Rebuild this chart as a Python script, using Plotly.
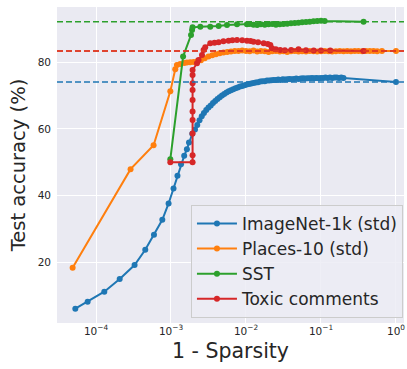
import plotly.graph_objects as go

# ---------------- data ----------------
imagenet_x = [5.30e-5, 7.74e-5, 1.29e-4, 2.07e-4, 3.27e-4, 4.54e-4, 5.93e-4, 7.66e-4, 9.29e-4,
              1.08e-3, 1.22e-3, 1.36e-3, 1.50e-3, 1.63e-3, 1.738e-3, 1.92e-3, 2.09e-3, 2.24e-3,
              2.40e-3, 2.57e-3, 2.75e-3, 2.95e-3, 3.16e-3, 3.39e-3, 3.63e-3, 3.89e-3, 4.17e-3,
              4.47e-3, 4.79e-3, 5.13e-3, 5.50e-3, 5.89e-3, 6.31e-3, 6.76e-3, 7.24e-3, 7.76e-3,
              8.32e-3, 8.91e-3, 9.55e-3, 1.023e-2, 1.096e-2, 1.175e-2, 1.259e-2, 1.349e-2,
              1.445e-2, 1.549e-2, 1.660e-2, 1.778e-2, 1.905e-2, 2.042e-2, 2.188e-2, 2.344e-2,
              2.512e-2, 2.692e-2, 2.884e-2, 3.090e-2, 3.311e-2, 3.548e-2, 3.802e-2, 4.074e-2,
              4.365e-2, 4.677e-2, 5.012e-2, 5.370e-2, 5.754e-2, 6.166e-2, 6.607e-2, 7.079e-2,
              7.586e-2, 8.128e-2, 8.710e-2, 9.333e-2, 0.1, 0.1072, 0.1148, 0.1230, 0.1318,
              0.1413, 0.1514, 0.1622, 0.1738, 0.1862, 0.1995, 1.0]
imagenet_acc = [6.0, 8.1, 11.1, 14.9, 19.1, 23.7, 28.2, 32.7, 37.6,
                42.1, 45.9, 49.4, 51.9, 53.9, 55.9, 58.5, 59.8, 61.2,
                62.6, 63.8, 64.8, 65.7, 66.4, 67.0, 67.8, 68.4, 69.0,
                69.5, 70.0, 70.5, 70.9, 71.3, 71.6, 71.9, 72.2, 72.4,
                72.7, 72.9, 73.1, 73.3, 73.5, 73.6, 73.8, 73.9,
                74.0, 74.2, 74.3, 74.3, 74.5, 74.5, 74.6, 74.7,
                74.7, 74.8, 74.7, 74.9, 74.8, 74.9, 75.0, 74.9,
                75.0, 75.1, 75.0, 75.1, 75.2, 75.1, 75.2, 75.2,
                75.3, 75.2, 75.3, 75.2, 75.3, 75.3, 75.4, 75.3, 75.4,
                75.3, 75.4, 75.4, 75.3, 75.4, 75.3, 74.1]

places_x = [4.88e-5, 2.89e-4, 5.86e-4, 9.80e-4, 1.14e-3, 1.20e-3, 1.33e-3, 1.50e-3, 1.63e-3,
            1.80e-3, 2.00e-3, 2.24e-3, 2.51e-3, 2.82e-3, 3.16e-3, 3.55e-3, 3.98e-3, 4.47e-3,
            5.01e-3, 5.62e-3, 6.31e-3, 7.08e-3, 7.94e-3, 8.91e-3, 1.00e-2, 1.12e-2, 1.26e-2,
            1.41e-2, 1.58e-2, 1.78e-2, 2.00e-2, 2.24e-2, 2.51e-2, 2.82e-2, 3.16e-2, 3.55e-2,
            3.98e-2, 4.47e-2, 5.01e-2, 5.62e-2, 6.31e-2, 7.08e-2, 7.94e-2, 8.91e-2, 0.100,
            0.112, 0.126, 0.141, 0.158, 0.178, 0.200, 0.224, 0.251, 0.282, 0.316, 0.355,
            0.398, 0.447, 0.501, 0.562, 0.650, 1.0]
places_acc = [18.3, 47.9, 55.1, 71.3, 77.9, 79.2, 79.5, 79.8, 79.9,
              80.0, 80.1, 80.3, 80.6, 81.2, 81.7, 82.1, 82.4, 82.7,
              82.9, 83.1, 83.2, 83.4, 83.4, 83.5, 83.4, 83.3, 83.5,
              83.2, 83.4, 83.3, 83.1, 83.3, 83.4, 83.2, 83.3, 83.1,
              83.3, 83.4, 83.2, 83.3, 83.2, 83.4, 83.3, 83.2, 83.3,
              83.4, 83.3, 83.2, 83.3, 83.4, 83.3, 83.4, 83.3, 83.4, 83.4, 83.3,
              83.4, 83.4, 83.4, 83.3, 83.4, 83.4]

sst_x = [9.80e-4, 1.45e-3, 1.85e-3, 1.91e-3, 1.94e-3, 2.46e-3, 3.34e-3, 4.32e-3, 5.58e-3,
         7.59e-3, 1.03e-2, 1.12e-2, 1.26e-2, 1.41e-2, 1.58e-2, 1.78e-2, 2.00e-2, 2.24e-2,
         2.51e-2, 2.82e-2, 3.16e-2, 3.55e-2, 3.98e-2, 4.47e-2, 5.01e-2, 5.62e-2, 6.31e-2,
         7.08e-2, 7.94e-2, 8.91e-2, 0.100, 0.112, 0.37]
sst_acc = [50.9, 81.7, 88.2, 89.7, 90.5, 90.7, 90.7, 90.9, 91.2,
           91.4, 91.4, 91.5, 91.3, 91.2, 91.4, 91.3, 91.4, 91.5,
           91.3, 91.4, 91.5, 91.6, 91.7, 91.8, 91.9, 92.0, 92.1,
           92.2, 92.3, 92.4, 92.5, 92.4, 92.2]

toxic_x = [9.80e-4, 1.94e-3, 1.94e-3, 1.94e-3, 1.94e-3, 1.94e-3, 1.94e-3, 1.94e-3, 1.94e-3,
           1.94e-3, 1.94e-3, 2.22e-3, 2.33e-3, 2.59e-3, 2.72e-3, 2.86e-3, 3.34e-3, 3.80e-3,
           4.32e-3, 5.00e-3, 5.86e-3, 6.60e-3, 7.59e-3, 8.90e-3, 1.03e-2, 1.15e-2, 1.26e-2,
           1.45e-2, 1.72e-2, 1.95e-2, 2.11e-2, 2.22e-2, 2.50e-2, 2.86e-2, 3.30e-2, 4.00e-2,
           5.01e-2, 6.30e-2, 8.00e-2, 0.100, 0.133, 0.37]
toxic_acc = [50.0, 50.0, 52.1, 58.6, 62.7, 65.2, 68.7, 71.7, 73.7,
             76.2, 77.7, 79.7, 80.7, 82.2, 83.7, 84.5, 85.7, 85.9,
             86.0, 86.3, 86.5, 86.6, 86.7, 86.6, 86.5, 86.4, 86.2,
             86.0, 85.7, 85.5, 85.2, 84.2, 83.9, 83.7, 83.6, 83.7,
             83.9, 83.6, 83.5, 83.5, 83.5, 83.4]

series_names = ["ImageNet-1k (std)", "Places-10 (std)", "SST", "Toxic comments"]
baseline_acc = [74.1, 83.4, 92.2, 83.4]   # dense-model accuracy per dataset
colors = ["#1f77b4", "#ff7f0e", "#2ca02c", "#d62728"]
tick_vals = [1e-4, 1e-3, 1e-2, 1e-1, 1e0]
tick_text = ["10<sup>−4</sup>", "10<sup>−3</sup>", "10<sup>−2</sup>", "10<sup>−1</sup>", "10<sup>0</sup>"]

# ---------------- figure ----------------
fig = go.Figure()
xs = [imagenet_x, places_x, sst_x, toxic_x]
ys = [imagenet_acc, places_acc, sst_acc, toxic_acc]

for name, x, y, c in zip(series_names, xs, ys, colors):
    fig.add_trace(go.Scatter(
        x=x, y=y, name=name, mode="lines+markers",
        line=dict(color=c, width=2),
        marker=dict(color=c, size=6),
        legendgroup=name,
    ))

for val, c in zip(baseline_acc, colors):
    fig.add_hline(y=val, line=dict(color=c, width=1.5, dash="6px,3px"), layer="above")

text_color = "#262626"
font_family = "DejaVu Sans"

fig.update_layout(
    width=407, height=369,
    margin=dict(l=57, r=3, t=7, b=46, autoexpand=False),
    paper_bgcolor="white",
    plot_bgcolor="#EAEAF2",
    font=dict(family=font_family, color=text_color),
    showlegend=True,
    legend=dict(
        x=0.997, y=0.016, xanchor="right", yanchor="bottom",
        bgcolor="rgba(236,236,244,0.85)",
        bordercolor="#CCCCCC", borderwidth=1,
        font=dict(size=17, family=font_family, color=text_color),
        tracegroupgap=0,
        itemwidth=40,
    ),
)

fig.update_xaxes(
    type="log",
    range=[-4.52, 0.107],
    tickvals=tick_vals, ticktext=tick_text,
    tickfont=dict(size=10.5, color=text_color),
    showgrid=True, gridcolor="white", gridwidth=1,
    zeroline=False, showline=False, ticks="",
    automargin=False,
    title=dict(text="1 - Sparsity", font=dict(size=20.5, color=text_color), standoff=8),
)
fig.update_yaxes(
    range=[1.7, 96.6],
    tickvals=[20, 40, 60, 80],
    tickfont=dict(size=10.5, color=text_color),
    showgrid=True, gridcolor="white", gridwidth=1,
    zeroline=False, showline=False, ticks="",
    ticklabelstandoff=5,
    automargin=False,
    title=dict(text="Test accuracy (%)", font=dict(size=19.5, color=text_color), standoff=6),
)

fig.write_html(
    "out.html",
    config={"displayModeBar": False},
    post_script="document.body.style.margin='0px'; document.body.style.overflow='hidden';",
)
